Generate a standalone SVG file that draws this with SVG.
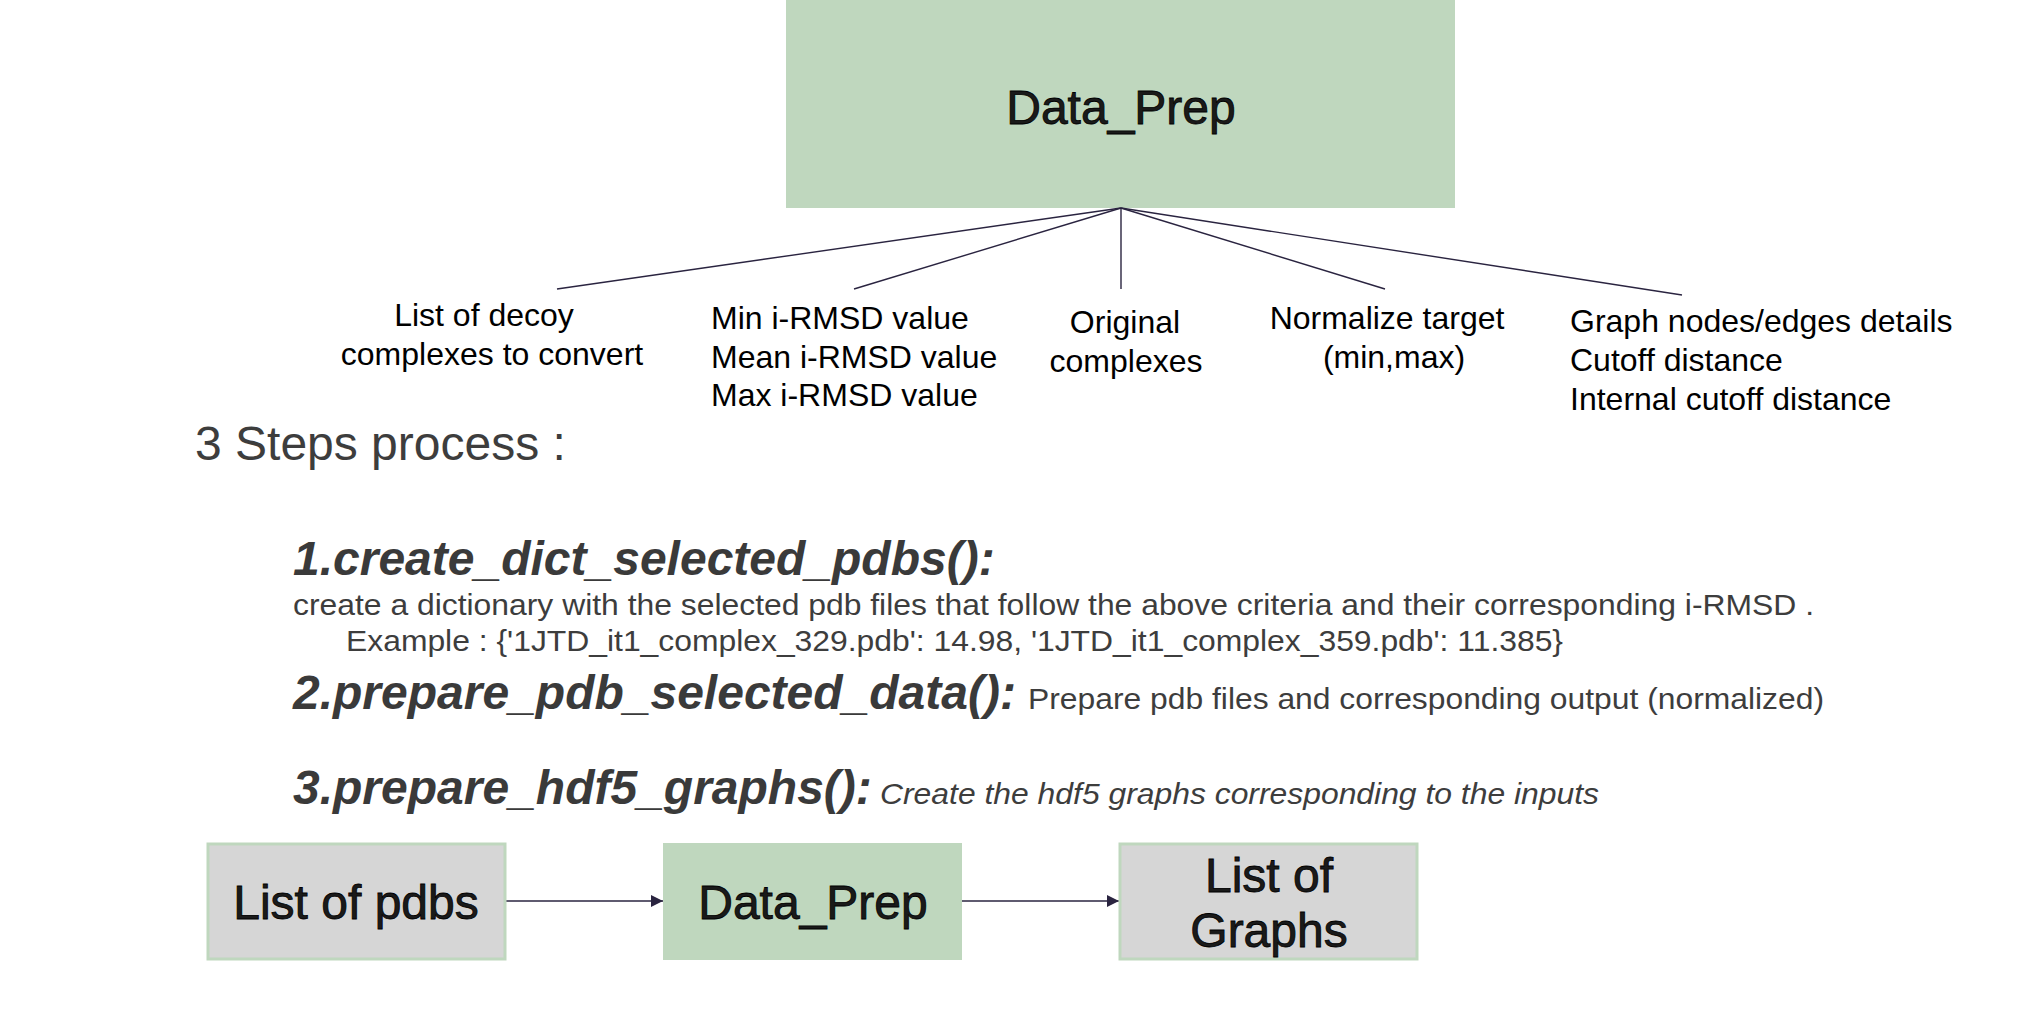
<svg xmlns="http://www.w3.org/2000/svg" width="2030" height="1010" viewBox="0 0 2030 1010">
<defs>
<style>
.lbl{font-family:"Liberation Sans",Arial,sans-serif;font-size:32px;fill:#000}
.big{font-family:"Liberation Sans",Arial,sans-serif;font-size:48px;fill:#1a1a1a;stroke:#000;stroke-width:0.8}
.head{font-family:"Liberation Sans",Arial,sans-serif;font-size:48px;fill:#3d3d3d}
.step{font-family:"Liberation Sans",Arial,sans-serif;font-size:48px;font-weight:bold;font-style:italic;fill:#3a3a3a}
.desc{font-family:"Liberation Sans",Arial,sans-serif;font-size:29px;fill:#3d3d3d}
.green{fill:#bfd7be}
.gray{fill:#d6d6d6;stroke:#bfd7be;stroke-width:3}
.conn{stroke:#2a2440;stroke-width:1.4;fill:none}
</style>
<marker id="arr" viewBox="0 0 10 10" refX="10" refY="5" markerWidth="12" markerHeight="14" markerUnits="userSpaceOnUse" orient="auto">
<path d="M0,0 L10,5 L0,10 z" fill="#2a2440"/>
</marker>
</defs>
<rect width="2030" height="1010" fill="#fff"/>

<g id="data_prep_top">
<rect class="green" x="786" y="0" width="669" height="208"/>
<text class="big" x="1121" y="124" text-anchor="middle">Data_Prep</text>
</g>

<g id="connectors">
<line class="conn" x1="1121" y1="208" x2="557" y2="289"/>
<line class="conn" x1="1121" y1="208" x2="854" y2="289"/>
<line class="conn" x1="1121" y1="208" x2="1121" y2="289"/>
<line class="conn" x1="1121" y1="208" x2="1385" y2="289"/>
<line class="conn" x1="1121" y1="208" x2="1682" y2="295"/>
<line class="conn" x1="506" y1="901" x2="663" y2="901" marker-end="url(#arr)"/>
<line class="conn" x1="962" y1="901" x2="1119" y2="901" marker-end="url(#arr)"/>
</g>

<g id="label_decoy">
<text class="lbl" x="484" y="326" text-anchor="middle">List of decoy</text>
<text class="lbl" x="492" y="365" text-anchor="middle">complexes to convert</text>
</g>
<g id="label_rmsd">
<text class="lbl" x="711" y="329">Min i-RMSD value</text>
<text class="lbl" x="711" y="368">Mean i-RMSD value</text>
<text class="lbl" x="711" y="406">Max i-RMSD value</text>
</g>
<g id="label_original">
<text class="lbl" x="1125" y="333" text-anchor="middle">Original</text>
<text class="lbl" x="1126" y="372" text-anchor="middle">complexes</text>
</g>
<g id="label_normalize">
<text class="lbl" x="1387" y="329" text-anchor="middle">Normalize target</text>
<text class="lbl" x="1394" y="368" text-anchor="middle">(min,max)</text>
</g>
<g id="label_graph">
<text class="lbl" x="1570" y="332">Graph nodes/edges details</text>
<text class="lbl" x="1570" y="371">Cutoff distance</text>
<text class="lbl" x="1570" y="410">Internal cutoff distance</text>
</g>

<g id="steps_text">
<text class="head" x="195" y="460">3 Steps process :</text>
<text class="step" x="293" y="575">1.create_dict_selected_pdbs():</text>
<text class="desc" x="293" y="615" textLength="1521" lengthAdjust="spacingAndGlyphs">create a dictionary with the selected pdb files that follow the above criteria and their corresponding i-RMSD .</text>
<text class="desc" x="346" y="651" textLength="1217" lengthAdjust="spacingAndGlyphs">Example : {'1JTD_it1_complex_329.pdb': 14.98, '1JTD_it1_complex_359.pdb': 11.385}</text>
<text class="step" x="293" y="709">2.prepare_pdb_selected_data():</text>
<text class="desc" x="1028" y="709" font-size="30" textLength="796" lengthAdjust="spacingAndGlyphs">Prepare pdb files and corresponding output (normalized)</text>
<text class="step" x="293" y="804">3.prepare_hdf5_graphs():</text>
<text class="desc" x="880" y="804" font-style="italic" textLength="719" lengthAdjust="spacingAndGlyphs">Create the hdf5 graphs corresponding to the inputs</text>
</g>

<g id="list_of_pdbs">
<rect class="gray" x="208" y="844" width="297" height="115"/>
<text class="big" x="356" y="919" text-anchor="middle">List of pdbs</text>
</g>
<g id="data_prep_bottom">
<rect class="green" x="663" y="843" width="299" height="117"/>
<text class="big" x="813" y="919" text-anchor="middle">Data_Prep</text>
</g>
<g id="list_of_graphs">
<rect class="gray" x="1120" y="844" width="297" height="115"/>
<text class="big" x="1269" y="892" text-anchor="middle">List of</text>
<text class="big" x="1269" y="947" text-anchor="middle">Graphs</text>
</g>
</svg>
